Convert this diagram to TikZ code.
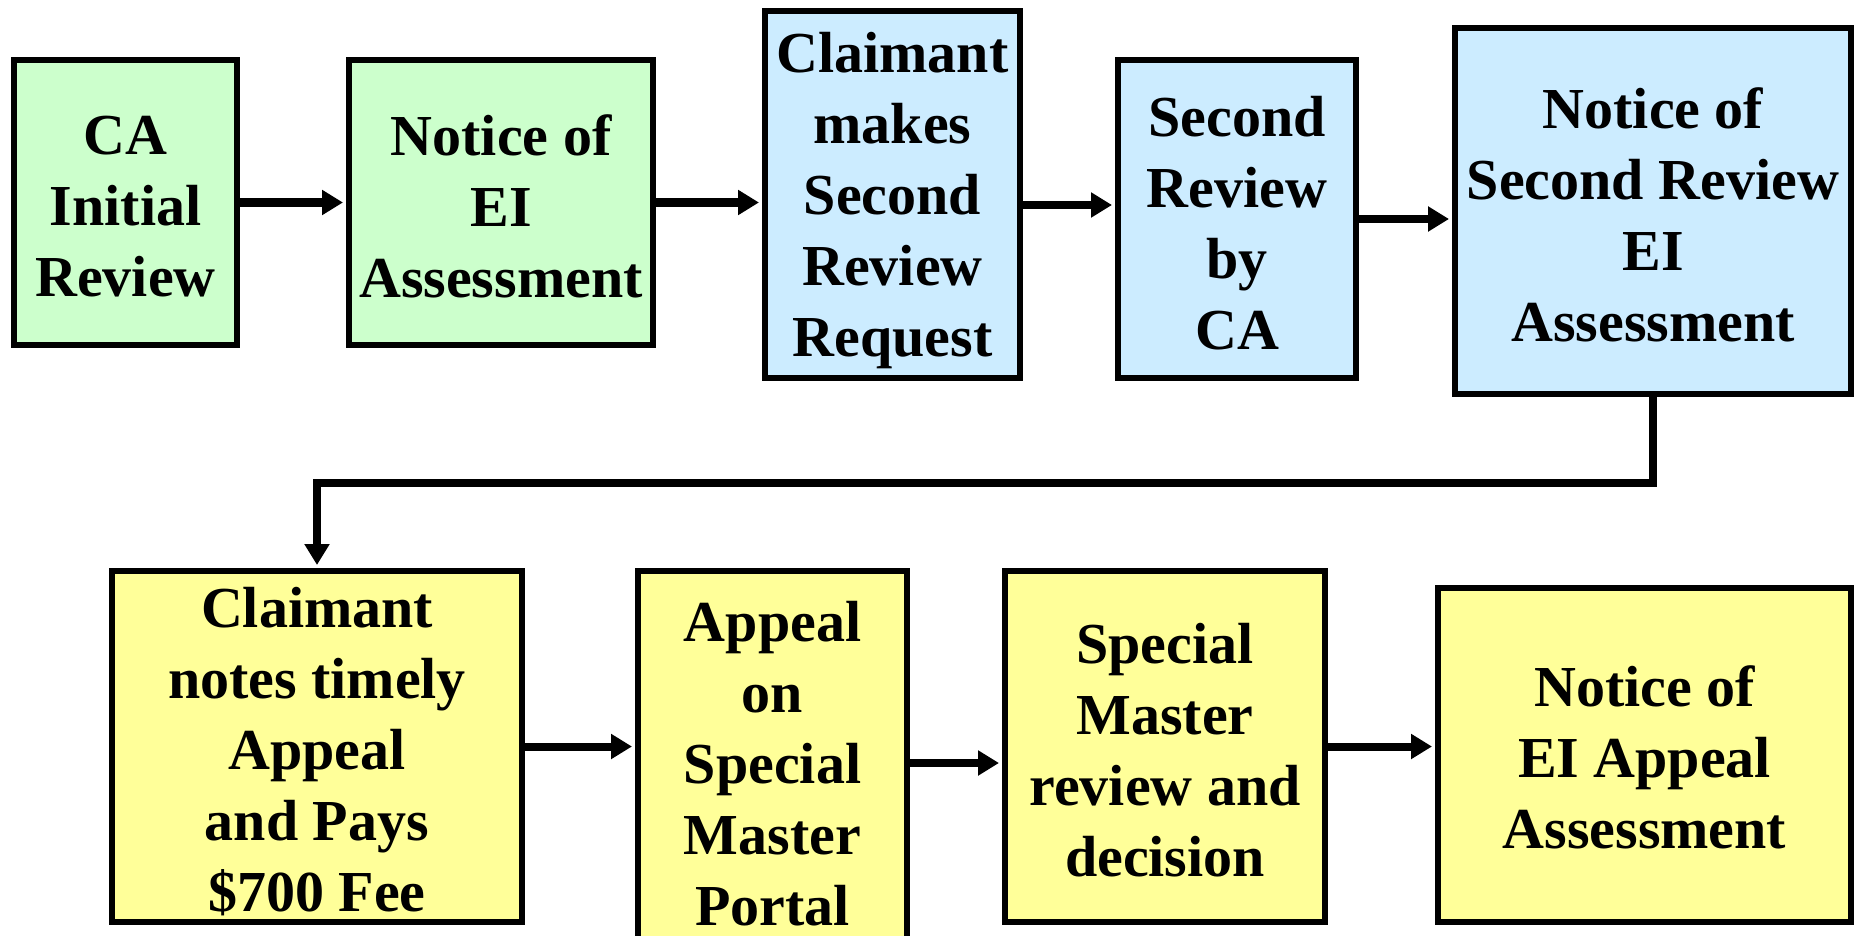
\documentclass[tikz,border=0pt]{standalone}
\usepackage{fontspec}
\setmainfont{Liberation Serif}
\usetikzlibrary{arrows.meta}
\definecolor{boxgreen}{HTML}{CCFFCC}
\definecolor{boxblue}{HTML}{CCECFF}
\definecolor{boxyellow}{HTML}{FFFF99}
\tikzset{
  stepbox/.style={draw=black, line width=6pt, inner sep=0pt},
  greenbox/.style={stepbox, fill=boxgreen},
  bluebox/.style={stepbox, fill=boxblue},
  yellowbox/.style={stepbox, fill=boxyellow},
  txt/.style={inner sep=0pt, align=center, font=\fontsize{58}{71}\selectfont\bfseries},
  arr/.style={line width=8pt, shorten >=3pt, -{Triangle[length=21pt,width=24pt]}},
}
\begin{document}
\begin{tikzpicture}[x=1pt,y=-1pt]
\clip (0,0) rectangle (1862,936);
\fill[white] (0,0) rectangle (1862,936);
\node[greenbox, minimum width=223pt, minimum height=285pt] (b1) at (125.5,202.5) {};
\node[greenbox, minimum width=304pt, minimum height=285pt] (b2) at (501,202.5) {};
\node[bluebox, minimum width=255pt, minimum height=367pt] (b3) at (892.5,194.5) {};
\node[bluebox, minimum width=238pt, minimum height=318pt] (b4) at (1237,219) {};
\node[bluebox, minimum width=396pt, minimum height=366pt] (b5) at (1653,211) {};
\node[yellowbox, minimum width=410pt, minimum height=351pt] (b6) at (317,746.5) {};
\node[yellowbox, minimum width=269pt, minimum height=378pt] (b7) at (772.5,760) {};
\node[yellowbox, minimum width=320pt, minimum height=351pt] (b8) at (1165,746.5) {};
\node[yellowbox, minimum width=413pt, minimum height=334pt] (b9) at (1644.5,755) {};
\node[txt] (t1) at ([yshift=-4pt]b1.center) {CA\\Initial\\Review};
\node[txt] (t2) at ([yshift=-4pt]b2.center) {Notice of\\EI\\Assessment};
\node[txt] (t3) at ([yshift=-6pt]b3.center) {Claimant\\makes\\Second\\Review\\Request};
\node[txt] (t4) at ([yshift=-4pt]b4.center) {Second\\Review\\by\\CA};
\node[txt] (t5) at ([yshift=-4pt]b5.center) {Notice of\\Second Review\\EI\\Assessment};
\node[txt] (t6) at ([yshift=-5pt]b6.center) {Claimant\\notes timely\\Appeal\\and Pays\\\$700 Fee};
\node[txt] (t7) at ([yshift=-4pt]b7.center) {Appeal\\on\\Special\\Master\\Portal};
\node[txt] (t8) at ([yshift=-4pt]b8.center) {Special\\Master\\review and\\decision};
\node[txt] (t9) at ([yshift=-2pt]b9.center) {Notice of\\EI Appeal\\Assessment};
\coordinate (bend) at (1653,483);
\draw[arr] (b1.east) -- (b2.west);
\draw[arr] (b2.east) -- (b2.east -| b3.west);
\draw[arr] ([yshift=-10.5pt]b3.east) -- ([yshift=-10.5pt]b3.east -| b4.west);
\draw[arr] (b4.east) -- (b4.east -| b5.west);
\draw[arr] (b5.south) -- (b5.south |- bend) -| (b6.north);
\draw[arr] (b6.east) -- (b6.east -| b7.west);
\draw[arr] ([yshift=-3pt]b7.east) -- ([yshift=-3pt]b7.east -| b8.west);
\draw[arr] (b8.east) -- (b8.east -| b9.west);
\end{tikzpicture}
\end{document}
